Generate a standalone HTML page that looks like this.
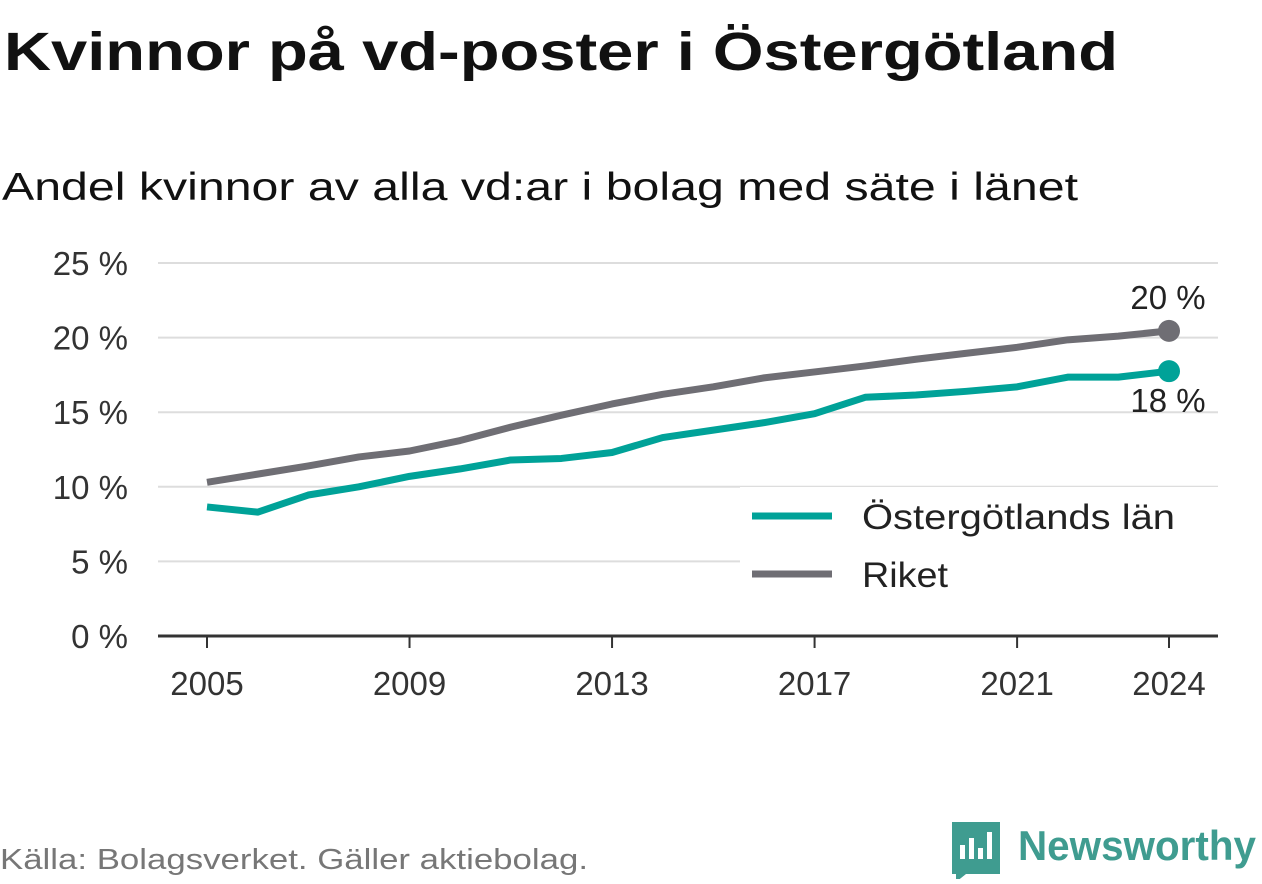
<!DOCTYPE html>
<html><head><meta charset="utf-8"><style>
body{margin:0;background:#fff;width:1262px;height:879px;overflow:hidden;font-family:"Liberation Sans",sans-serif;}
svg text{font-family:"Liberation Sans",sans-serif;}
</style></head><body>
<svg id="chart" width="1262" height="879" xmlns="http://www.w3.org/2000/svg">
<text x="4" y="70" font-size="54" font-weight="bold" fill="#111" textLength="1114" lengthAdjust="spacingAndGlyphs">Kvinnor på vd-poster i Östergötland</text>
<text x="2" y="200" font-size="39" fill="#111" textLength="1076" lengthAdjust="spacingAndGlyphs">Andel kvinnor av alla vd:ar i bolag med säte i länet</text>
<g id="grid"></g><g id="lines"></g>
<g>
<rect x="740" y="487" width="478" height="112" fill="#fff"/>
<line x1="752" y1="516" x2="832" y2="516" stroke="#00a298" stroke-width="7"/>
<text x="862" y="529" font-size="35" fill="#222" textLength="313" lengthAdjust="spacingAndGlyphs">Östergötlands län</text>
<line x1="752" y1="574" x2="832" y2="574" stroke="#6f6e74" stroke-width="7"/>
<text x="862" y="587" font-size="35" fill="#222" textLength="86" lengthAdjust="spacingAndGlyphs">Riket</text>
</g>
<text x="0" y="869" font-size="29" fill="#777" textLength="588" lengthAdjust="spacingAndGlyphs">Källa: Bolagsverket. Gäller aktiebolag.</text>
<g>
<path d="M952 822 h48 v52 h-34 l-10 8 v-8 h-4 z" fill="#3f9c90"/>
<rect x="960" y="845" width="5" height="14" fill="#fff"/><rect x="969" y="838" width="5" height="21" fill="#fff"/><rect x="978" y="848" width="5" height="11" fill="#fff"/><rect x="987" y="832" width="5" height="27" fill="#fff"/>
<text x="1018" y="860" font-size="42" font-weight="bold" fill="#3f9c90" textLength="238" lengthAdjust="spacingAndGlyphs">Newsworthy</text>
</g>
</svg>
<script>
const years=[2005,2006,2007,2008,2009,2010,2011,2012,2013,2014,2015,2016,2017,2018,2019,2020,2021,2022,2023,2024];
const ostergotland=[8.65,8.3,9.45,10.0,10.7,11.2,11.8,11.9,12.3,13.3,13.8,14.3,14.9,16.0,16.15,16.4,16.7,17.35,17.35,17.75];
const riket=[10.3,10.85,11.4,12.0,12.4,13.1,14.0,14.8,15.55,16.2,16.7,17.3,17.7,18.1,18.55,18.95,19.35,19.85,20.1,20.45];
const yTicks=[0,5,10,15,20,25];
const xTicks=[2005,2009,2013,2017,2021,2024];
const NS="http://www.w3.org/2000/svg";
const x=v=>207+(v-2005)*(1169-207)/19;
const y=v=>636-v*(636-263)/25;
function mk(t,a,p){const e=document.createElementNS(NS,t);for(const k in a)e.setAttribute(k,a[k]);p.appendChild(e);return e;}
const grid=document.getElementById('grid'),lines=document.getElementById('lines');
yTicks.forEach(v=>{
 if(v>0){const l=mk('line',{x1:158,x2:1218,y1:y(v),y2:y(v),stroke:'#ddd','stroke-width':2},grid);
 
 }
 const t=mk('text',{x:128,y:y(v)+12,'font-size':33,fill:'#333','text-anchor':'end'},grid);t.textContent=v+' %';
 
 
});
const ax=mk('line',{x1:158,x2:1218,y1:636,y2:636,stroke:'#333','stroke-width':3},grid);


xTicks.forEach(v=>{
 mk('line',{x1:x(v),x2:x(v),y1:636,y2:648,stroke:'#333','stroke-width':2},grid);
 const t=mk('text',{x:x(v),y:695,'font-size':33,fill:'#333','text-anchor':'middle'},grid);t.textContent=v;
 
 
});
function series(vals,col,name,labelDy){
 const p=mk('polyline',{points:vals.map((v,i)=>x(years[i])+','+y(v)).join(' '),fill:'none',stroke:col,'stroke-width':7,'stroke-linejoin':'round'},lines);
 
 
 const last=vals[vals.length-1];
 const c=mk('circle',{cx:x(years[years.length-1]),cy:y(last),r:11,fill:col},lines);
 
 
 const t=mk('text',{x:1168,y:y(last)+labelDy,'font-size':33,fill:'#222','text-anchor':'middle'},lines);
 t.textContent=Math.round(last)+' %';
 
 
}
series(riket,'#6f6e74','riket',-22);
series(ostergotland,'#00a298','ostergotland',41);
</script>
</body></html>
